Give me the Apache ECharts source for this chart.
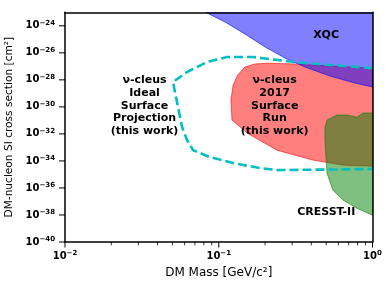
<!DOCTYPE html>
<html><head><meta charset="utf-8">
<script src="https://cdn.jsdelivr.net/npm/echarts@6/dist/echarts.min.js"></script>
<style>html,body{margin:0;padding:0;background:#fff}#c{width:390px;height:286px}</style>
</head><body><div id="c"></div>
<script>
// ---- axis ticks (physical units) ----
const massTicks = [0.01, 0.1, 1];
const massMinorTicks = [0.02,0.03,0.04,0.05,0.06,0.07,0.08,0.09,0.2,0.3,0.4,0.5,0.6,0.7,0.8,0.9];
const sigmaTicks = [1e-40,1e-38,1e-36,1e-34,1e-32,1e-30,1e-28,1e-26,1e-24];

// ---- XQC excluded region (GeV, cm^2) ----
const xqcMass  = [0.082, 0.0839, 0.110, 0.148, 0.200, 0.270, 0.364, 0.529, 0.769, 1.0, 1.0];
const xqcSigma = [1e-23, 8.9e-24, 1.9e-24, 2.5e-25, 2.7e-26, 4.1e-27, 8.9e-28, 1.9e-28, 5.8e-29, 3.0e-29, 1e-23];

// ---- nu-cleus 2017 surface run region ----
const nuRunMass  = [0.122, 0.120, 0.124, 0.133, 0.148, 0.172, 0.206, 0.304, 0.529, 1.0, 1.0, 0.643, 0.410, 0.239, 0.153];
const nuRunSigma = [1.05e-31, 3.2e-30, 4.1e-29, 2.3e-28, 8.9e-28, 1.5e-27, 1.7e-27, 1.5e-27, 1.05e-27, 7.4e-28, 4.1e-35, 4.9e-35, 1.15e-34, 6.3e-34, 1.15e-32];

// ---- CRESST-II region ----
const cresstMass  = [0.491, 0.506, 0.588, 0.682, 0.792, 0.867, 1.0, 1.0, 0.792, 0.643, 0.553, 0.506, 0.491];
const cresstSigma = [3.2e-32, 1.05e-31, 2.5e-31, 2.5e-31, 1.7e-31, 3.5e-31, 3.5e-31, 9.5e-39, 3.2e-38, 1.26e-37, 6.9e-37, 1.26e-35, 3.5e-33];

// ---- nu-cleus ideal surface projection (dashed) ----
const projMass  = [1.0, 0.506, 0.304, 0.239, 0.167, 0.113, 0.0839, 0.0622, 0.0504, 0.0543, 0.0577, 0.0622, 0.068, 0.0877, 0.124, 0.185, 0.239, 1.0];
const projSigma = [7.4e-28, 1.3e-27, 2.1e-27, 3.0e-27, 4.9e-27, 4.9e-27, 2.1e-27, 3.8e-28, 6.9e-29, 9.8e-31, 3.2e-32, 3.5e-33, 6.3e-34, 1.9e-34, 6.9e-35, 3.0e-35, 2.1e-35, 2.5e-35];

// ---- annotations ----
const noteTexts = ['\u03bd-cleus\nIdeal\nSurface\nProjection\n(this work)', '\u03bd-cleus\n2017\nSurface\nRun\n(this work)', 'XQC', 'CRESST-II'];
const noteMass  = [0.0329, 0.231, 0.499, 0.50];
const noteSigma = [1.2e-30, 1.2e-30, 2.1e-25, 1.7e-38];

// axis range (physical units)
const X_MIN = 0.01, X_MAX = 1, Y_MIN = 1e-40, Y_MAX = 1e-23;

// both axes are logarithmic: the library's value axes run over log10 of the data
const FONT = 'DejaVu Sans';
const L = Math.log10;
const zipLog = (a, b) => a.map((v, i) => [L(v), L(b[i])]);

function polySeries(mass, sigma, fill, stroke, z) {
  const pts = zipLog(mass, sigma);
  return {
    type: 'custom', z: z, clip: true, silent: true,
    data: pts,
    renderItem: function (params, api) {
      if (params.dataIndex !== 0) return null;
      const points = pts.map(p => api.coord(p));
      return { type: 'polygon', shape: { points: points }, style: { fill: fill, stroke: stroke, lineWidth: 1 } };
    }
  };
}

function xTickSeries(values, len, width) {
  return {
    type: 'custom', z: 12, silent: true, clip: false,
    data: values.map(v => [L(v), L(Y_MIN)]),
    renderItem: function (params, api) {
      const p = api.coord([api.value(0), api.value(1)]);
      return { type: 'line', shape: { x1: p[0], y1: p[1], x2: p[0], y2: p[1] + len },
               style: { stroke: '#000', lineWidth: width } };
    }
  };
}
function yTickSeries(values, len, width) {
  return {
    type: 'custom', z: 12, silent: true, clip: false,
    data: values.map(v => [L(X_MIN), L(v)]),
    renderItem: function (params, api) {
      const p = api.coord([api.value(0), api.value(1)]);
      return { type: 'line', shape: { x1: p[0] - len, y1: p[1], x2: p[0], y2: p[1] },
               style: { stroke: '#000', lineWidth: width } };
    }
  };
}

function powLabel(e) {
  e = Math.round(e);
  return '{b|10}{s|' + (e < 0 ? '\u2212' + (-e) : e) + '}';
}
function powLabelEven(e) {
  e = Math.round(e);
  if (e % 2 !== 0) return '';
  return powLabel(e);
}
const richTick = {
  b: { fontSize: 10, fontWeight: 'bold', fontFamily: FONT, color: '#000', lineHeight: 13 },
  s: { fontSize: 7, fontWeight: 'bold', fontFamily: FONT, color: '#000', lineHeight: 7, verticalAlign: 'top' }
};

const chart = echarts.init(document.getElementById('c'), null, { renderer: 'canvas' });
chart.setOption({
  animation: false,
  backgroundColor: '#fff',
  grid: { left: 65, right: 17.5, top: 12.3, bottom: 44, containLabel: false, outerBoundsMode: 'none' },
  xAxis: [
    { type: 'value', min: L(X_MIN), max: L(X_MAX), interval: 1, position: 'bottom', z: 10,
      name: 'DM Mass [GeV/c\u00b2]', nameLocation: 'middle', nameGap: 22,
      nameTextStyle: { fontSize: 12, fontFamily: FONT, color: '#000' },
      axisLine: { show: true, onZero: false, lineStyle: { color: '#000', width: 1.5 } },
      axisTick: { show: false },
      axisLabel: { margin: 8, formatter: powLabel, rich: richTick },
      splitLine: { show: false } },
    { type: 'value', min: L(X_MIN), max: L(X_MAX), position: 'top', z: 10,
      axisLine: { show: true, onZero: false, lineStyle: { color: '#000', width: 1.5 } },
      axisTick: { show: false }, axisLabel: { show: false }, splitLine: { show: false } }
  ],
  yAxis: [
    { type: 'value', min: L(Y_MIN), max: L(Y_MAX), interval: 2, position: 'left', z: 10,
      name: 'DM-nucleon SI cross section [cm\u00b2]', nameLocation: 'middle', nameGap: 44,
      nameTextStyle: { fontSize: 10.6, fontFamily: FONT, color: '#000' },
      axisLine: { show: true, onZero: false, lineStyle: { color: '#000', width: 1.5 } },
      axisTick: { show: false },
      axisLabel: { margin: 10, formatter: powLabelEven, rich: richTick },
      splitLine: { show: false } },
    { type: 'value', min: L(Y_MIN), max: L(Y_MAX), position: 'right', z: 10,
      axisLine: { show: true, onZero: false, lineStyle: { color: '#000', width: 1.5 } },
      axisTick: { show: false }, axisLabel: { show: false }, splitLine: { show: false } }
  ],
  series: [
    polySeries(nuRunMass, nuRunSigma, 'rgba(255,0,0,0.5)', 'rgba(255,0,0,0.6)', 2),
    polySeries(cresstMass, cresstSigma, 'rgba(0,128,0,0.5)', 'rgba(0,128,0,0.6)', 3),
    polySeries(xqcMass, xqcSigma, 'rgba(0,0,255,0.5)', 'rgba(0,0,255,0.6)', 4),
    { type: 'line', z: 5, silent: true, showSymbol: false, symbol: 'none', clip: true,
      data: zipLog(projMass, projSigma),
      lineStyle: { color: '#00bfbf', width: 2.6, type: [9, 4] } },
    { type: 'scatter', z: 6, silent: true, symbolSize: 0, itemStyle: { opacity: 1 },
      data: noteTexts.map((t, i) => ({ value: [L(noteMass[i]), L(noteSigma[i])], label: { formatter: t } })),
      label: { show: true, position: 'inside', color: '#000', opacity: 1, fontFamily: FONT, fontWeight: 'bold',
               fontSize: 11, lineHeight: 12.7, align: 'center', verticalAlign: 'middle',
               textBorderWidth: 0, textBorderColor: 'transparent' } },
    xTickSeries(massTicks, 5.5, 1),
    xTickSeries(massMinorTicks, 3.3, 0.8),
    yTickSeries(sigmaTicks, 6, 1)
  ]
});
</script></body></html>
